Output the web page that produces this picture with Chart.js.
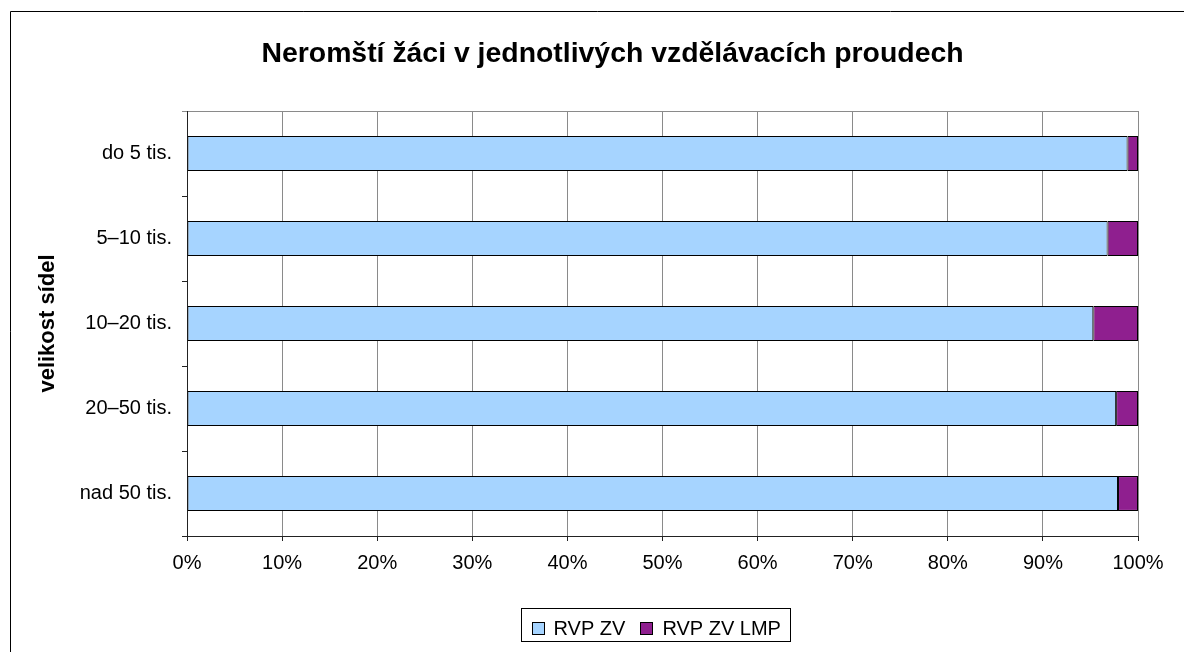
<!DOCTYPE html>
<html>
<head>
<meta charset="utf-8">
<script src="https://cdn.jsdelivr.net/npm/chart.js@4.4.1/dist/chart.umd.min.js"></script>
<style>
  html, body { margin: 0; padding: 0; background: #fff; }
  #wrap { width: 1184px; height: 652px; position: relative; }
</style>
</head>
<body>
<div id="wrap"><canvas id="c" width="1184" height="652"></canvas></div>
<script>
const categories = ['do 5 tis.', '5–10 tis.', '10–20 tis.', '20–50 tis.', 'nad 50 tis.'];
const rvpZV = [98.9, 96.8, 95.3, 97.7, 97.9];
const rvpZVLMP = [1.1, 3.2, 4.7, 2.3, 2.1];
const seriesNames = ['RVP ZV', 'RVP ZV LMP'];
const xTicks = [0, 10, 20, 30, 40, 50, 60, 70, 80, 90, 100];
const titleText = 'Neromští žáci v jednotlivých vzdělávacích proudech';
const yAxisTitle = 'velikost sídel';

const FONT = '"Liberation Sans", Arial, sans-serif';
const GRID = '#8a8a8a';
const AXIS = '#222222';

const framePlugin = {
  id: 'frame',
  beforeDraw(chart) {
    const ctx = chart.ctx;
    ctx.save();
    ctx.fillStyle = '#fff';
    ctx.fillRect(0, 0, chart.width, chart.height);
    ctx.strokeStyle = '#000';
    ctx.lineWidth = 1;
    ctx.beginPath();
    ctx.moveTo(10.5, chart.height);
    ctx.lineTo(10.5, 11.5);
    ctx.lineTo(chart.width, 11.5);
    ctx.stroke();
    ctx.restore();
  },
  afterDraw(chart) {
    const ctx = chart.ctx;
    ctx.save();
    ctx.font = 'bold 28.4px ' + FONT;
    ctx.fillStyle = '#000';
    ctx.textAlign = 'center';
    ctx.textBaseline = 'alphabetic';
    ctx.fillText(titleText, 612.5, 61.5);
    ctx.restore();
  }
};

const legendPlugin = {
  id: 'boxLegend',
  afterDraw(chart) {
    const ctx = chart.ctx;
    ctx.save();
    ctx.font = '20px ' + FONT;
    const box = 12, gapText = 10, gapItem = 15, padX = 10;
    const items = chart.data.datasets.map(ds => ({
      label: ds.label, color: ds.backgroundColor, w: ctx.measureText(ds.label).width
    }));
    let total = padX * 2 + gapItem * (items.length - 1);
    items.forEach(it => total += box + gapText + it.w);
    const cx = 655.5, top = 608.5, h = 33;
    let x = Math.round(cx - total / 2) + 0.5;
    ctx.strokeStyle = '#000';
    ctx.lineWidth = 1;
    ctx.strokeRect(x, top, Math.round(total), h);
    x += padX;
    ctx.textBaseline = 'alphabetic';
    ctx.textAlign = 'left';
    items.forEach(it => {
      ctx.fillStyle = it.color;
      ctx.fillRect(Math.round(x), 622.5, box, box);
      ctx.strokeStyle = '#000';
      ctx.strokeRect(Math.round(x) + 0.5, 622.5, box, box);
      x += box + gapText;
      ctx.fillStyle = '#000';
      ctx.fillText(it.label, x, 634.5);
      x += it.w + gapItem;
    });
    ctx.restore();
  }
};

new Chart(document.getElementById('c'), {
  type: 'bar',
  data: {
    labels: categories,
    datasets: [
      { label: seriesNames[0], data: rvpZV, backgroundColor: '#A6D4FF', borderColor: '#000', borderWidth: 1, borderSkipped: false, barPercentage: 0.41, categoryPercentage: 1 },
      { label: seriesNames[1], data: rvpZVLMP, backgroundColor: '#8F1F8F', borderColor: '#000', borderWidth: 1, borderSkipped: false, barPercentage: 0.41, categoryPercentage: 1 }
    ]
  },
  options: {
    indexAxis: 'y',
    responsive: false,
    animation: false,
    devicePixelRatio: 1,
    layout: { padding: { left: 0, right: 46, top: 111, bottom: 0 } },
    plugins: {
      legend: { display: false },
      tooltip: { enabled: false },
      title: { display: false }
    },
    scales: {
      x: {
        stacked: true,
        min: 0,
        max: 100,
        afterBuildTicks(scale) { scale.ticks = xTicks.map(v => ({ value: v })); },
        afterFit(scale) { scale.height = 116; },
        ticks: {
          color: '#000',
          font: { family: FONT, size: 20 },
          padding: 10,
          maxRotation: 0,
          callback: v => v + '%'
        },
        grid: { color: GRID, tickColor: AXIS, tickLength: 5, lineWidth: 1 },
        border: { color: AXIS, width: 1 }
      },
      y: {
        stacked: true,
        afterFit(scale) { scale.width = 187; },
        ticks: { color: '#000', font: { family: FONT, size: 20 }, padding: 10 },
        grid: {
          offset: true,
          drawOnChartArea: true,
          color: ctx => ctx.index === 0 ? GRID : 'rgba(0,0,0,0)',
          tickColor: ctx => ctx.index === 0 ? GRID : AXIS,
          tickLength: 5,
          lineWidth: 1
        },
        border: { color: AXIS, width: 1 },
        title: {
          display: true,
          text: yAxisTitle,
          color: '#000',
          font: { family: FONT, size: 22, weight: 'bold' },
          padding: { top: 35, bottom: 0 }
        }
      }
    }
  },
  plugins: [framePlugin, legendPlugin]
});
</script>
</body>
</html>
